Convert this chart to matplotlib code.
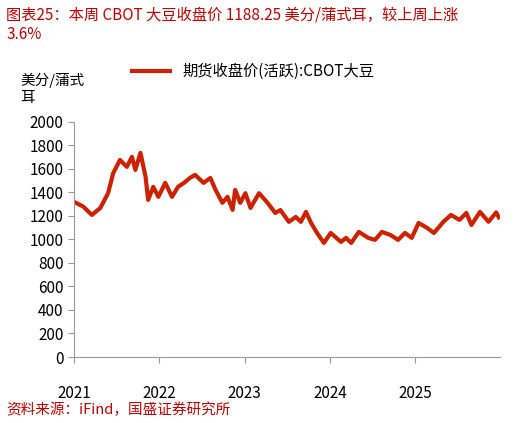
import matplotlib
matplotlib.use("Agg")
import matplotlib.pyplot as plt

plt.rcParams['font.family'] = ['Noto Sans CJK SC', 'DejaVu Sans']

years = [2021.0, 2021.11, 2021.21, 2021.31, 2021.40, 2021.46, 2021.54, 2021.62, 2021.68, 2021.72,
         2021.78, 2021.84, 2021.87, 2021.93, 2021.99, 2022.07, 2022.15, 2022.22, 2022.29, 2022.36,
         2022.42, 2022.52, 2022.60, 2022.66, 2022.74, 2022.80, 2022.86, 2022.89, 2022.95, 2023.01,
         2023.07, 2023.17, 2023.27, 2023.36, 2023.42, 2023.52, 2023.60, 2023.66, 2023.72, 2023.78,
         2023.85, 2023.93, 2024.01, 2024.13, 2024.19, 2024.25, 2024.34, 2024.45, 2024.53, 2024.61,
         2024.71, 2024.80, 2024.88, 2024.96, 2025.04, 2025.14, 2025.22, 2025.33, 2025.42, 2025.52,
         2025.60, 2025.66, 2025.76, 2025.86, 2025.95, 2025.98]
prices = [1320, 1279, 1208, 1268, 1393, 1563, 1676, 1617, 1702, 1591,
          1736, 1532, 1336, 1447, 1362, 1481, 1362, 1447, 1481, 1523,
          1549, 1481, 1523, 1421, 1311, 1362, 1251, 1421, 1311, 1393,
          1268, 1393, 1311, 1225, 1250, 1149, 1191, 1149, 1234, 1140,
          1055, 970, 1055, 979, 1013, 970, 1064, 1013, 996, 1064,
          1038, 996, 1055, 1013, 1140, 1098, 1055, 1149, 1208, 1166,
          1225, 1123, 1234, 1150, 1230, 1188]
yticks = list(range(0, 2001, 200))
xticks = [2021, 2022, 2023, 2024, 2025]

red = '#C00000'
line_c = '#CC2200'

fig = plt.figure(figsize=(5.17, 4.23), dpi=100)
ax = fig.add_axes([0.143, 0.156, 0.825, 0.556])
ax.plot(years, prices, color=line_c, lw=3, label='期货收盘价(活跃):CBOT大豆')
ax.set_ylim(0, 2000)
ax.set_xlim(2021, 2026)
ax.set_yticks(yticks)
ax.set_xticks(xticks)
ax.set_xticklabels([str(x) for x in xticks])
for s in ['top', 'right']:
    ax.spines[s].set_visible(False)
ax.spines['left'].set_color('#999999')
ax.spines['bottom'].set_color('#999999')
ax.tick_params(axis='y', length=4, color='#999999', labelsize=11)
ax.tick_params(axis='x', length=4, color='#999999', labelsize=11, pad=16)
ax.legend(loc='lower center', bbox_to_anchor=(0.42, 1.12), frameon=False, fontsize=11,
          handlelength=2.5)

fig.text(0.012, 0.985, '图表25：本周 CBOT 大豆收盘价 1188.25 美分/蒲式耳，较上周上涨\n3.6%',
         color=red, fontsize=11, style='italic', va='top', ha='left', linespacing=1.2)
fig.text(0.04, 0.79, '美分/蒲式\n耳', fontsize=10.5, va='center', ha='left', linespacing=1.3)
fig.text(0.012, 0.03, '资料来源：iFind，国盛证券研究所', color=red, fontsize=10.5,
         style='italic', ha='left', va='center')
fig.savefig('out.png', dpi=100)
